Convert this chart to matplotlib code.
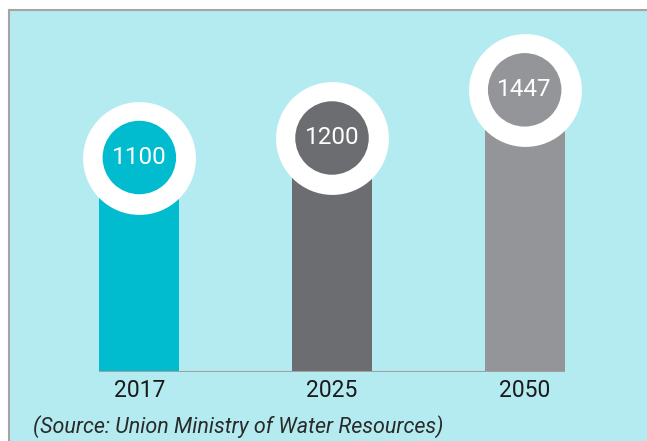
import matplotlib
matplotlib.use("Agg")
import matplotlib.pyplot as plt
from matplotlib.patches import Rectangle

years = ["2017", "2025", "2050"]
values = [1100, 1200, 1447]
colors = ["#00bcce", "#6c6d71", "#949598"]

W, H = 647, 441
fig = plt.figure(figsize=(W / 100, H / 100), dpi=100)
fig.patch.set_facecolor("white")

# cyan panel with grey border on top/left
bg = fig.add_axes([0, 0, 1, 1], zorder=-1)
bg.set_xlim(0, W)
bg.set_ylim(H, 0)
bg.axis("off")
bg.add_patch(Rectangle((9, 10), W, H, facecolor="#b3ebf0", edgecolor="none"))
bg.plot([9, W], [10, 10], color="#a5a5a5", lw=1.5)
bg.plot([9, 9], [10, H], color="#a5a5a5", lw=1.5)

left, right = 43, 621
bottom, top = 372, 10
ax = fig.add_axes([left / W, (H - bottom) / H, (right - left) / W, (bottom - top) / H])
ax.set_facecolor("none")
x = list(range(len(years)))
bw = 0.415
ax.bar(x, values, width=bw, color=colors, zorder=1)
ax.plot([-bw / 2, 2 + bw / 2], [0, 0], color="#a0a0a0", lw=1.5, zorder=2,
        solid_capstyle="butt")

ax.scatter(x, values, s=6600, color="white", zorder=3, linewidths=0)
ax.scatter(x, values, s=2800, color=colors, zorder=4, linewidths=0)
for xi, v in zip(x, values):
    ax.text(xi, v, str(v), ha="center", va="center", color="white",
            fontsize=17.5, family="Roboto", zorder=5)

ax.set_xlim(-0.5, 2.5)
ax.set_ylim(0, (bottom - top) / 0.195)
ax.set_xticks(x)
ax.set_xticklabels(years, fontsize=16.5, family="Roboto", color="#1a1a1a")
ax.tick_params(axis="x", length=0, pad=5)
ax.set_yticks([])
for s in ax.spines.values():
    s.set_visible(False)

fig.text(33 / W, (H - 427) / H, "(Source: Union Ministry of Water Resources)",
         fontsize=15.5, family="Roboto", style="italic",
         color="#2a2a2a", va="center", ha="left")

fig.savefig("out.png", dpi=100)
